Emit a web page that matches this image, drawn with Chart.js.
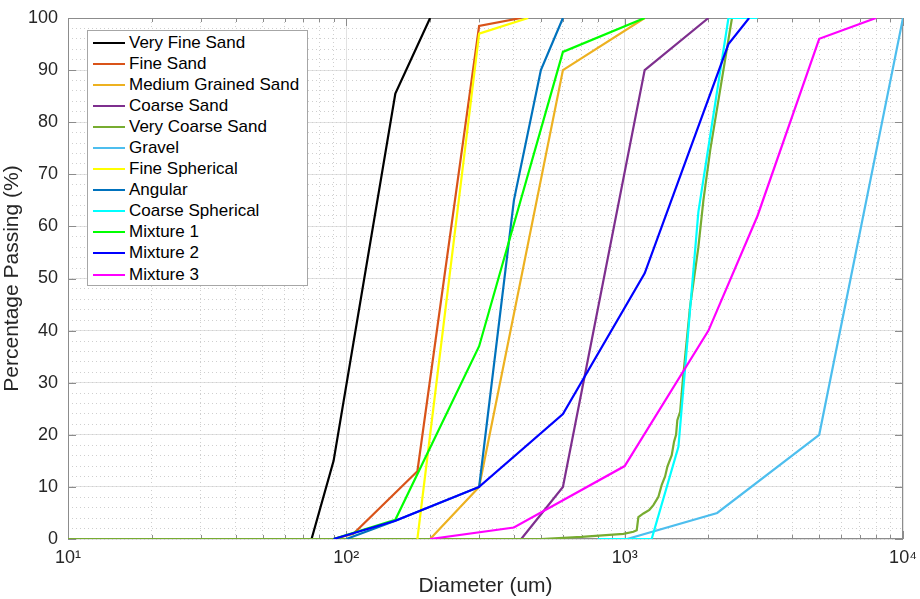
<!DOCTYPE html>
<html lang="en">
<head>
<meta charset="UTF-8" />
<title>Percentage Passing</title>
<script src="https://cdn.jsdelivr.net/npm/chart.js"></script>
<style>
  body { margin: 0; background: #fff; }
  #wrap { position: relative; width: 920px; height: 599px; }
  #legend {
    position: absolute; left: 87px; top: 30px; width: 221px; height: 256px;
    box-sizing: border-box; border: 1px solid #a6a6a6; background: #fff; padding: 1px 0;
    font-family: "Liberation Sans", Arial, sans-serif; font-size: 17px; color: #000;
  }
  .item { height: 21.1px; display: flex; align-items: center; white-space: nowrap; }
  .swatch { width: 32px; height: 2px; margin-left: 5px; margin-right: 4px; flex: none; }
</style>
</head>
<body>
<div id="wrap">
  <canvas id="psd" width="920" height="599"></canvas>
  <div id="legend"></div>
</div>

<script>
// diameters (um) and percentage passing
const veryFineSandD = [75, 90, 150, 200];
const veryFineSandP = [0, 15, 85.5, 100];

const fineSandD = [75, 90, 106, 180, 300, 425];
const fineSandP = [0, 0, 1, 13, 98.5, 100];

const mediumSandD = [200, 300, 600, 1180];
const mediumSandP = [0, 10, 90, 100];

const coarseSandD = [425, 600, 1180, 2000];
const coarseSandP = [0, 10, 90, 100];

const veryCoarseSandD = [10, 500, 700, 990, 1075, 1105, 1120, 1168, 1227, 1268, 1322, 1359, 1397, 1424, 1476, 1505, 1530, 1546, 1582, 1618, 1718, 1840, 1918, 2030, 2430];
const veryCoarseSandP = [0, 0, 0.4, 1, 1.4, 1.7, 4.2, 4.9, 5.6, 6.5, 8.1, 10.4, 12, 13.9, 16.1, 18.7, 20, 22.8, 24.4, 30.5, 44.6, 56, 65, 74.7, 100];

const gravelD = [1020, 2150, 5000, 10000];
const gravelP = [0, 5, 20, 100];

const fineSphericalD = [180, 300, 450];
const fineSphericalP = [0, 97, 100];

const angularD = [100, 150, 300, 400, 500, 600];
const angularP = [0, 3.5, 10, 65, 90, 100];

const coarseSphericalD = [800, 1250, 1560, 1840, 2360, 3000];
const coarseSphericalP = [0, 0, 17.7, 62.8, 100, 100];

const mixture1D = [90, 150, 300, 600, 1180];
const mixture1P = [0, 3.7, 37, 93.5, 100];

const mixture2D = [90, 150, 300, 600, 1180, 2360, 2800];
const mixture2P = [0, 3.5, 10, 24, 51, 95, 100];

const mixture3D = [200, 400, 1000, 2000, 3000, 5000, 8000];
const mixture3P = [0, 2.2, 14, 40, 62, 96, 100];

const seriesNames = ["Very Fine Sand", "Fine Sand", "Medium Grained Sand", "Coarse Sand", "Very Coarse Sand",
  "Gravel", "Fine Spherical", "Angular", "Coarse Spherical", "Mixture 1", "Mixture 2", "Mixture 3"];
const seriesD = [veryFineSandD, fineSandD, mediumSandD, coarseSandD, veryCoarseSandD, gravelD,
  fineSphericalD, angularD, coarseSphericalD, mixture1D, mixture2D, mixture3D];
const seriesP = [veryFineSandP, fineSandP, mediumSandP, coarseSandP, veryCoarseSandP, gravelP,
  fineSphericalP, angularP, coarseSphericalP, mixture1P, mixture2P, mixture3P];
const seriesColors = ["#000000", "#D95319", "#EDB120", "#7E2F8E", "#77AC30", "#4DBEEE",
  "#FFFF00", "#0072BD", "#00FFFF", "#00FF00", "#0000FF", "#FF00FF"];

const xMajor = [10, 100, 1000, 10000];
const xTickLabels = ["10\u00B9", "10\u00B2", "10\u00B3", "10\u2074"];
const xMinor = [];
xMajor.slice(0, 3).forEach((dec) => {
  for (let k = 2; k <= 9; k++) xMinor.push(dec * k);
});

const FONT = "'Liberation Sans', Arial, Helvetica, sans-serif";
const AXIS_COLOR = "#8c8c8c";
const TEXT_COLOR = "#262626";

// box round the plot + inward tick marks, like matlab
const axesBox = {
  id: "axesBox",
  beforeDatasetsDraw(chart) {
    const { ctx, chartArea: a, scales } = chart;
    ctx.save();
    ctx.strokeStyle = AXIS_COLOR;
    ctx.lineWidth = 1;
    ctx.beginPath();
    xMajor.concat(xMinor).forEach((v) => {
      const px = Math.round(scales.x.getPixelForValue(v)) + 0.5;
      const len = xMajor.includes(v) ? 8 : 4;
      ctx.moveTo(px, a.bottom); ctx.lineTo(px, a.bottom - len);
      ctx.moveTo(px, a.top); ctx.lineTo(px, a.top + len);
    });
    for (let v = 0; v <= 100; v += 10) {
      const py = Math.round(scales.y.getPixelForValue(v)) + 0.5;
      ctx.moveTo(a.left, py); ctx.lineTo(a.left + 8, py);
      ctx.moveTo(a.right, py); ctx.lineTo(a.right - 8, py);
    }
    ctx.stroke();
    ctx.strokeRect(a.left + 0.5, a.top + 0.5, a.right - a.left - 1, a.bottom - a.top - 1);
    ctx.restore();
  },
};

const datasets = seriesNames.map((name, i) => ({
  label: name,
  data: seriesD[i].map((d, j) => ({ x: d, y: seriesP[i][j] })),
  borderColor: seriesColors[i],
  backgroundColor: seriesColors[i],
  borderWidth: 2.2,
  pointRadius: 0,
  tension: 0,
  fill: false,
  order: seriesNames.length - i, // later series on top, as in the original
}));

const ctx = document.getElementById("psd").getContext("2d");
const chart = new Chart(ctx, {
  type: "line",
  data: { datasets: datasets },
  plugins: [axesBox],
  options: {
    responsive: false,
    animation: false,
    layout: { padding: { top: 18, right: 17, left: 0, bottom: 0 } },
    plugins: { legend: { display: false }, tooltip: { enabled: false } },
    scales: {
      x: {
        type: "logarithmic",
        position: "bottom",
        min: 10,
        max: 10000,
        afterBuildTicks: (s) => { s.ticks = xMajor.map((v) => ({ value: v })); },
        afterFit: (s) => { s.height = 60; s.paddingLeft = 0; s.paddingRight = 0; },
        ticks: {
          autoSkip: false,
          maxRotation: 0,
          padding: 8,
          color: TEXT_COLOR,
          font: { family: FONT, size: 18 },
          callback: (v) => xTickLabels[xMajor.indexOf(v)],
        },
        grid: { color: "#e2e2e2", lineWidth: 1, drawTicks: false },
        border: { display: false },
        title: {
          display: true,
          text: "Diameter (um)",
          color: TEXT_COLOR,
          font: { family: FONT, size: 21 },
          padding: { top: 0, bottom: 0 },
        },
      },
      xMinor: {
        type: "logarithmic",
        position: "bottom",
        min: 10,
        max: 10000,
        afterBuildTicks: (s) => { s.ticks = xMinor.map((v) => ({ value: v })); },
        afterFit: (s) => { s.height = 0; s.paddingLeft = 0; s.paddingRight = 0; },
        ticks: { display: false },
        grid: { color: "#cfcfcf", lineWidth: 1, drawTicks: false },
        border: { display: false, dash: [1, 3] },
      },
      y: {
        type: "linear",
        position: "left",
        min: 0,
        max: 100,
        afterFit: (s) => { s.width = 68; s.paddingTop = 0; s.paddingBottom = 0; },
        ticks: {
          stepSize: 10,
          padding: 10,
          color: TEXT_COLOR,
          font: { family: FONT, size: 18 },
        },
        grid: { color: "#e2e2e2", lineWidth: 1, drawTicks: false },
        border: { display: false },
        title: {
          display: true,
          text: "Percentage Passing (%)",
          color: TEXT_COLOR,
          font: { family: FONT, size: 21 },
          padding: { top: 0, bottom: 3 },
        },
      },
      yMinor: {
        type: "linear",
        position: "left",
        min: 0,
        max: 100,
        afterFit: (s) => { s.width = 0; s.paddingTop = 0; s.paddingBottom = 0; },
        ticks: { display: false, stepSize: 2 },
        grid: { color: "#cfcfcf", lineWidth: 1, drawTicks: false },
        border: { display: false, dash: [1, 3] },
      },
    },
  },
});

// legend box inside the axes, top left
const legend = document.getElementById("legend");
chart.data.datasets.forEach((ds) => {
  const row = document.createElement("div");
  row.className = "item";
  const sw = document.createElement("span");
  sw.className = "swatch";
  sw.style.background = ds.borderColor;
  const txt = document.createElement("span");
  txt.textContent = ds.label;
  row.appendChild(sw);
  row.appendChild(txt);
  legend.appendChild(row);
});
</script>
</body>
</html>
